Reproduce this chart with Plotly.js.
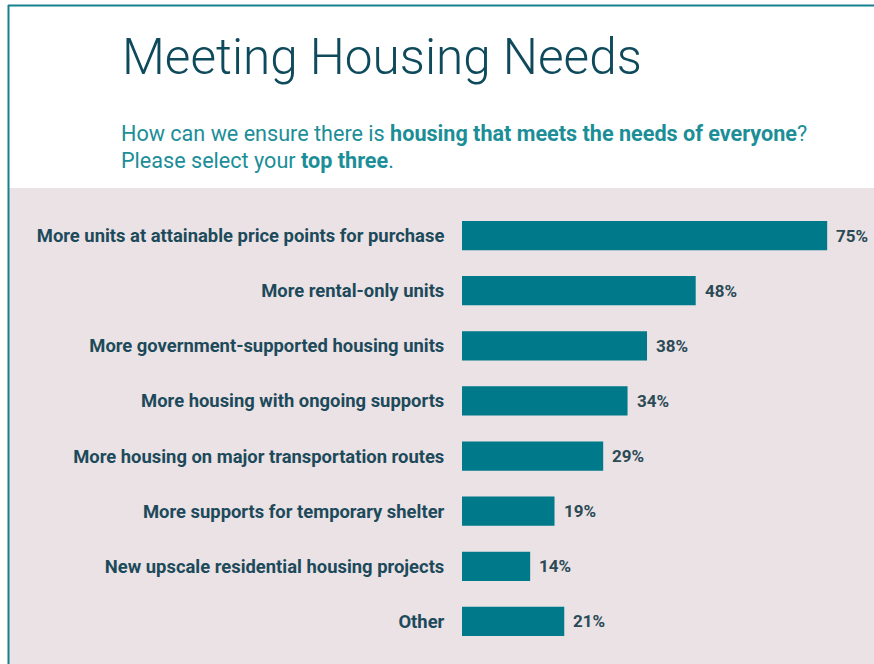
<!DOCTYPE html>
<html>
<head>
<meta charset="utf-8">
<script src="https://cdn.plot.ly/plotly-3.0.1.min.js"></script>
<style>
html,body{margin:0;padding:0;background:#fff;}
#chart{width:874px;height:664px;}
</style>
</head>
<body>
<div id="chart"></div>
<script>
// ---- data ----
const categories = [
  "More units at attainable price points for purchase",
  "More rental-only units",
  "More government-supported housing units",
  "More housing with ongoing supports",
  "More housing on major transportation routes",
  "More supports for temporary shelter",
  "New upscale residential housing projects",
  "Other"
];
const values = [75, 48, 38, 34, 29, 19, 14, 21];
const valueLabels = ["75%", "48%", "38%", "34%", "29%", "19%", "14%", "21%"];
const titleText = "Meeting Housing Needs";
const subtitleLine1 = "How can we ensure there is <b>housing that meets the needs of everyone</b>?";
const subtitleLine2 = "Please select your <b>top three</b>.";

// ---- layout geometry ----
const W = 874, H = 664;
const mL = 462, mR = 3, mT = 208, mB = 15;
const plotW = W - mL - mR, plotH = H - mT - mB;
const px2x = p => (p - mL) / plotW;
const px2y = p => (H - mB - p) / plotH;

const teal = "#00798a";
const labelColor = "#1d4a5b";

const trace = {
  type: "bar",
  orientation: "h",
  x: values,
  y: categories,
  marker: {color: teal, line: {width: 0}},
  width: 0.53,
  hoverinfo: "skip"
};

const annotations = values.map((v, i) => ({
  x: v, y: categories[i], xref: "x", yref: "y",
  text: "<b>" + valueLabels[i] + "</b>",
  showarrow: false, xanchor: "left", xshift: 7,
  font: {family: "Roboto, sans-serif", size: 17, color: "#2b4a56"}
}));

annotations.push({
  xref: "paper", yref: "paper", x: px2x(120), y: px2y(57),
  xanchor: "left", yanchor: "middle", showarrow: false,
  text: titleText,
  font: {family: "Roboto, sans-serif", size: 49.5, weight: 300, color: "#0e4a5c"}
});
annotations.push({
  xref: "paper", yref: "paper", x: px2x(119), y: px2y(133),
  xanchor: "left", yanchor: "middle", showarrow: false,
  text: subtitleLine1,
  font: {family: "Roboto, sans-serif", size: 21.6, color: "#1b8e98"}
});
annotations.push({
  xref: "paper", yref: "paper", x: px2x(119), y: px2y(160),
  xanchor: "left", yanchor: "middle", showarrow: false,
  text: subtitleLine2,
  font: {family: "Roboto, sans-serif", size: 21.6, color: "#1b8e98"}
});

const shapes = [
  {type: "rect", xref: "paper", yref: "paper", layer: "below",
   x0: px2x(9), x1: px2x(W + 5), y0: px2y(188), y1: px2y(H + 5),
   fillcolor: "#eae2e4", line: {width: 0}},
  {type: "line", xref: "paper", yref: "paper",
   x0: px2x(8), x1: px2x(W + 5), y0: px2y(5.5), y1: px2y(5.5),
   line: {color: "#16808e", width: 2}},
  {type: "line", xref: "paper", yref: "paper",
   x0: px2x(8.5), x1: px2x(8.5), y0: px2y(5), y1: px2y(H + 5),
   line: {color: "#16808e", width: 2}}
];

const layout = {
  width: W, height: H,
  margin: {l: mL, r: mR, t: mT, b: mB, pad: 0},
  paper_bgcolor: "#ffffff",
  plot_bgcolor: "rgba(0,0,0,0)",
  showlegend: false,
  xaxis: {range: [0, 84], visible: false, fixedrange: true},
  yaxis: {
    autorange: "reversed", type: "category",
    showgrid: false, zeroline: false, showline: false,
    ticks: "outside", ticklen: 13, tickcolor: "rgba(0,0,0,0)",
    tickfont: {family: "Roboto, sans-serif", size: 18.4, weight: 700, color: labelColor},
    fixedrange: true
  },
  annotations: annotations,
  shapes: shapes
};

Plotly.newPlot("chart", [trace], layout, {displayModeBar: false, staticPlot: true});
</script>
</body>
</html>
